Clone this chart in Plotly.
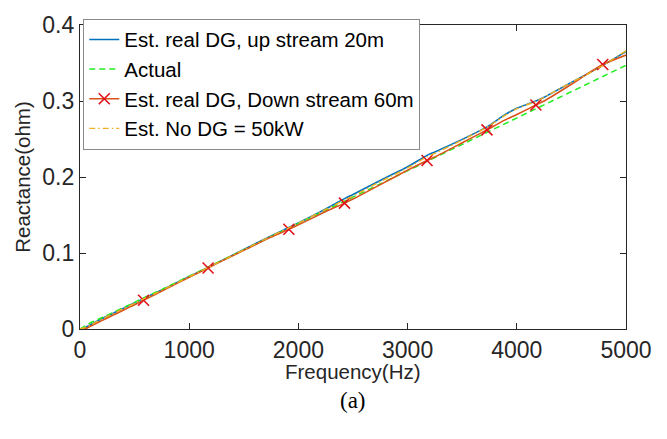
import plotly.graph_objects as go

# ---- data ----
freq = [0, 50, 100, 200, 300, 400, 500, 582, 750, 1000, 1173, 1250, 1500, 1750, 1913,
        2000, 2250, 2422, 2500, 2750, 3000, 3178, 3250, 3500, 3727, 3750, 3875, 4000, 4175,
        4250, 4500, 4650, 4787, 5000]

up_20m = [0, 0.002, 0.006, 0.0135, 0.0205, 0.0275, 0.0345, 0.040, 0.0515, 0.069, 0.081,
          0.0865, 0.1045, 0.1225, 0.1335, 0.1395, 0.158, 0.1715, 0.177, 0.1955, 0.2135,
          0.2285, 0.233, 0.2495, 0.266, 0.268, 0.2805, 0.2905, 0.300, 0.305, 0.3245, 0.336,
          0.347, 0.365]

actual = [0, 0.0045, 0.0085, 0.0150, 0.0215, 0.0285, 0.035, 0.0410, 0.052, 0.0695, 0.0815,
          0.0868, 0.104, 0.1215, 0.1328, 0.1388, 0.1562, 0.168, 0.1735, 0.1908, 0.2082,
          0.2205, 0.2255, 0.2428, 0.2585, 0.2602, 0.2689, 0.2776, 0.2890, 0.2943, 0.3117,
          0.3220, 0.3314, 0.347]

down_60m = [0, 0.0005, 0.004, 0.011, 0.018, 0.025, 0.032, 0.0378, 0.050, 0.068, 0.0803,
            0.086, 0.1035, 0.121, 0.1312, 0.137, 0.1545, 0.1656, 0.171, 0.190, 0.209,
            0.2217, 0.2265, 0.245, 0.262, 0.2638, 0.2738, 0.2822, 0.2947, 0.300, 0.322,
            0.336, 0.348, 0.3605]

no_dg = [0, 0.002, 0.0055, 0.013, 0.020, 0.027, 0.034, 0.0395, 0.051, 0.0687, 0.0808,
         0.0862, 0.1042, 0.1222, 0.1332, 0.1392, 0.1575, 0.1695, 0.175, 0.194, 0.212,
         0.2265, 0.231, 0.2485, 0.2655, 0.2675, 0.2795, 0.2900, 0.2995, 0.305, 0.3245,
         0.3355, 0.3465, 0.366]

marker_freq = [582, 1173, 1913, 2422, 3178, 3727, 4175, 4787]
marker_vals = [0.0378, 0.0803, 0.1312, 0.1656, 0.2217, 0.262, 0.2947, 0.348]

x_ticks = [0, 1000, 2000, 3000, 4000, 5000]
x_tick_text = ["0", "1000", "2000", "3000", "4000", "5000"]
y_ticks = [0, 0.1, 0.2, 0.3, 0.4]
y_tick_text = ["0", "0.1", "0.2", "0.3", "0.4"]

BLUE = "#0072BD"
ORANGE = "#D95319"
YELLOW = "#EDB120"
GREEN = "#22EE22"
RED = "#E0101A"
AX = "#262626"
FONT = "Liberation Sans, Arial, sans-serif"

fig = go.Figure()

fig.add_trace(go.Scatter(x=freq, y=up_20m, mode="lines", name="Est. real DG, up stream 20m",
                         line=dict(color=BLUE, width=1.6, shape="spline", smoothing=0.6)))
fig.add_trace(go.Scatter(x=freq, y=actual, mode="lines", name="Actual",
                         line=dict(color=GREEN, width=1.5, dash="6px,4px")))
# legend entry for the down-stream curve (line + marker)
fig.add_trace(go.Scatter(x=[None], y=[None], mode="lines+markers",
                         name="Est. real DG, Down stream 60m",
                         line=dict(color=ORANGE, width=1.6),
                         marker=dict(symbol="x-thin", size=11, color=RED,
                                     line=dict(color=RED, width=1.6))))
fig.add_trace(go.Scatter(x=freq, y=down_60m, mode="lines", showlegend=False,
                         line=dict(color=ORANGE, width=1.6, shape="spline", smoothing=0.6)))
fig.add_trace(go.Scatter(x=marker_freq, y=marker_vals, mode="markers", showlegend=False,
                         marker=dict(symbol="x-thin", size=11, color=RED,
                                     line=dict(color=RED, width=1.6))))
fig.add_trace(go.Scatter(x=freq, y=no_dg, mode="lines", name="Est. No DG = 50kW",
                         line=dict(color=YELLOW, width=1.4, dash="6px,3px,1.5px,3px",
                                   shape="spline", smoothing=0.6)))

axis_common = dict(showline=True, linecolor=AX, linewidth=1.2, mirror="ticks",
                   ticks="inside", ticklen=6, tickwidth=1.2, tickcolor=AX,
                   showgrid=False, zeroline=False,
                   tickfont=dict(family=FONT, size=23, color=AX))

fig.update_layout(
    width=667, height=439,
    margin=dict(l=80, r=41, t=15, b=110),
    paper_bgcolor="white", plot_bgcolor="white",
    font=dict(family=FONT, color=AX),
    showlegend=True,
    legend=dict(x=0.006, y=1.021, xanchor="left", yanchor="top",
                bgcolor="white", bordercolor="#8a8a8a", borderwidth=1,
                font=dict(family=FONT, size=20.5, color="black"),
                tracegroupgap=0),
    xaxis=dict(range=[0, 5000], tickvals=x_ticks, ticktext=x_tick_text,
               **axis_common),
    yaxis=dict(range=[0, 0.4], tickvals=y_ticks, ticktext=y_tick_text,
               title=dict(text="Reactance(ohm)", font=dict(family=FONT, size=20.5, color=AX),
                          standoff=6),
               **axis_common),
)

fig.add_annotation(text="Frequency(Hz)", xref="paper", yref="paper", x=0.5, y=-0.141,
                   xanchor="center", yanchor="middle", showarrow=False,
                   font=dict(family=FONT, size=20.5, color=AX))
fig.add_annotation(text="(a)", xref="paper", yref="paper", x=0.5, y=-0.236,
                   xanchor="center", yanchor="middle", showarrow=False,
                   font=dict(family="Liberation Serif, Times New Roman, serif", size=23,
                             color="black"))

fig.write_html("out.html")
